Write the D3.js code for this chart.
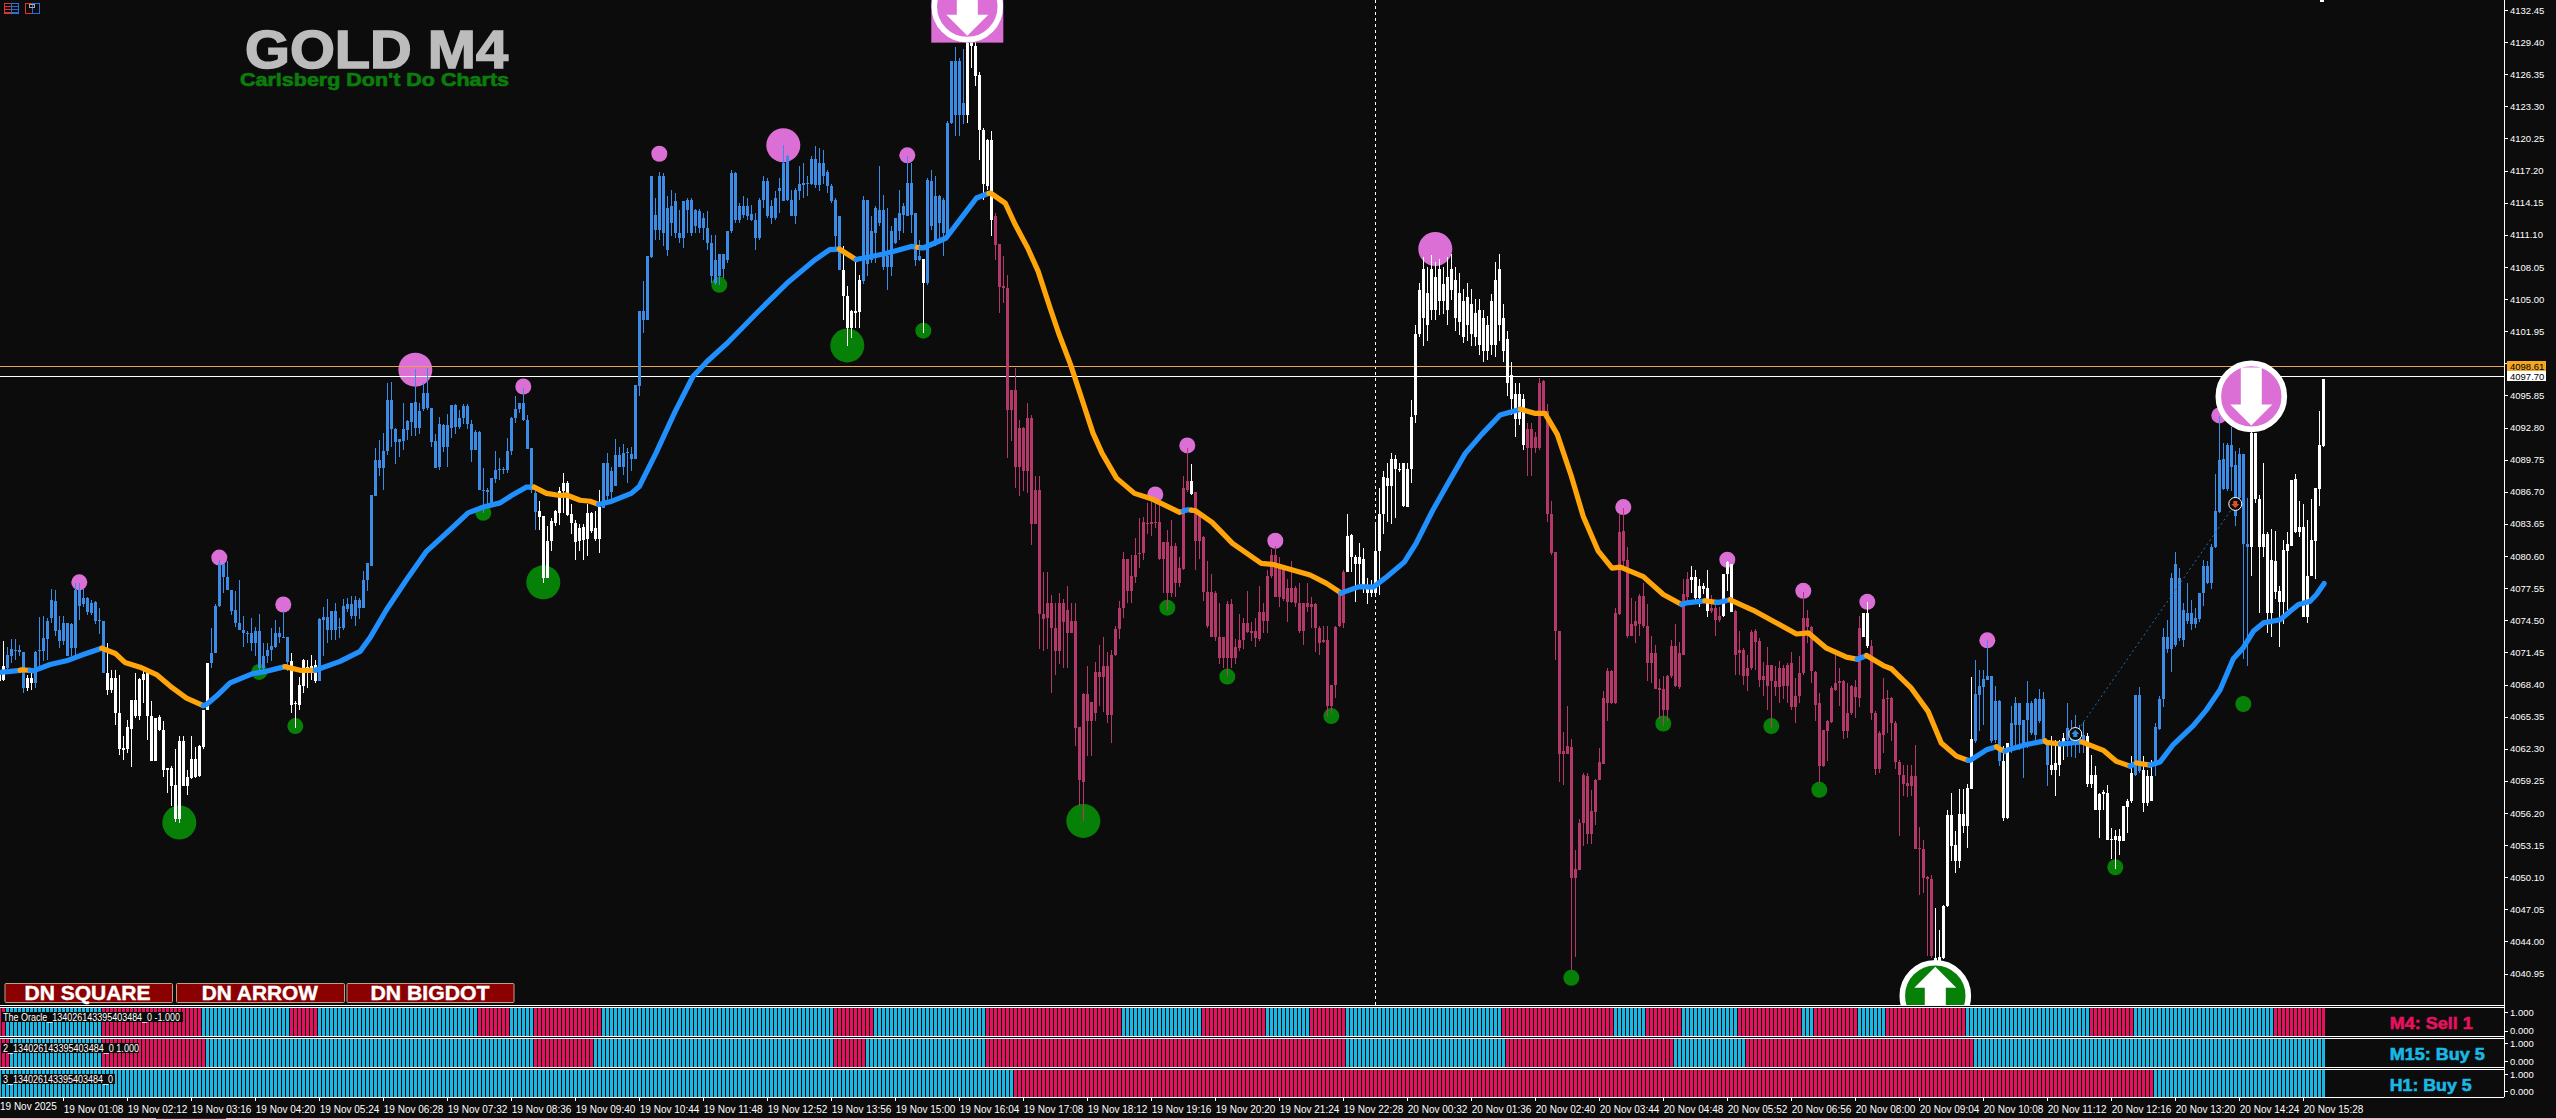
<!DOCTYPE html>
<html><head><meta charset="utf-8">
<script src="https://cdn.jsdelivr.net/npm/d3@7"></script>
<style>html,body{margin:0;padding:0;background:#0c0c0c;overflow:hidden}svg{display:block}text{font-family:"Liberation Sans",Arial,sans-serif}</style>
</head><body><svg id="c" width="2556" height="1119"></svg>
<script>
// Each row: [high, bodyTop, bodyBottom, low]
const sectionStarts=[0,86,160,258,354,406,484,550];
const barsA=[[4070.1,4069.65,4068.7,4067.6],[4072.5,4070.2,4068.85,4068.7],[4072,4071.2,4070,4069.65],[4072.7,4071.8,4071.15,4070.45],[4072.7,4071.7,4071.55,4070.75],[4072.2,4071.7,4071.45,4071.1],[4071.5,4071.5,4068.1,4067.6],[4069.3,4069,4068.05,4067.75],[4069.65,4069,4068.5,4067.9],[4071.55,4071.5,4068.55,4068.05],[4074.8,4071.7,4071.55,4069.8],[4074.9,4072.8,4071.6,4070.6],[4074.7,4074.4,4072.75,4070.75],[4077.45,4076.45,4074.7,4074.25],[4077.35,4076.35,4073.45,4073],[4074.9,4073.6,4072.55,4071.85],[4074.95,4074.25,4072.55,4072.2],[4074.25,4074.2,4071.1,4071.1],[4074.25,4074.1,4071.85,4071.1],[4078,4077.4,4071.85,4071.2],[4078,4077.4,4075.9,4074.55],[4077.55,4076.6,4076,4075.8],[4076.75,4076.6,4075.25,4075],[4076.45,4076.15,4075.2,4075],[4076.3,4076.2,4074.4,4074.1],[4075.65,4074.55,4074.45,4073.15],[4074.45,4074.45,4069.5,4069.5],[4072.35,4069.5,4067.9,4067.45],[4069.8,4069,4067.9,4067.6],[4069.8,4069,4065.7,4064.6],[4069.3,4065.7,4062.3,4061.75],[4063.5,4062.4,4062.2,4061.2],[4065.05,4064.35,4062.3,4061.9],[4066.95,4066.95,4064.2,4060.55],[4069.5,4066.95,4065.45,4065.2],[4069,4068.95,4065.4,4065.05],[4069.7,4069.4,4068.85,4066.65],[4069.65,4069.5,4065.4,4063.15],[4066.8,4065.45,4061.15,4061.1],[4065.2,4065.2,4061.15,4061.1],[4065.55,4065.3,4064.1,4063.95],[4064.9,4064.1,4060.3,4059.6],[4060.45,4060.45,4060.3,4058.1],[4060.65,4060.45,4058.8,4056.85],[4062.3,4058.9,4055.65,4055.3],[4063.5,4063.05,4055.65,4055.25],[4063.5,4063.05,4058.8,4058.75],[4060.3,4059.6,4058.8,4057.95],[4063.5,4061.35,4059.5,4059.45],[4062.5,4061.35,4059.6,4059.5],[4062.7,4062.6,4059.75,4059.6],[4066,4066,4062.45,4062.3],[4070.45,4070.45,4065.95,4065.95],[4073.75,4071.4,4070.45,4069.95],[4076,4075.9,4071.35,4071.35],[4080.25,4079.8,4075.9,4075.8],[4079.8,4079.8,4078.65,4077.1],[4080.1,4078.6,4077.35,4077.35],[4077.4,4077.4,4075.4,4075],[4077.25,4075.5,4074.2,4073.85],[4078.3,4074.25,4073.6,4073.6],[4074.9,4073.6,4073.3,4071.95],[4073.45,4073.3,4073.2,4072.35],[4074.7,4073.3,4072.3,4071.55],[4073.9,4073.5,4072.3,4071.1],[4075.1,4073.5,4069.95,4069.65],[4072.35,4071.15,4069.95,4069.65],[4072.35,4071.65,4071.1,4070.45],[4073.75,4072.1,4071.65,4070.6],[4074.55,4073.3,4072,4071.85],[4073.9,4073.3,4072.9,4072.35],[4075.35,4072.95,4072.9,4072.8],[4072.9,4072.9,4070.5,4069.65],[4071.4,4070.6,4066.5,4065.7],[4066.8,4066.65,4066.55,4064.25],[4069.15,4068.4,4066.5,4066],[4070.8,4070.75,4068.3,4067.6],[4070.75,4070.1,4069.65,4068.05],[4071.2,4070.2,4069.65,4068.85],[4070.75,4070.3,4068.7,4068.55],[4074.7,4074.65,4068.7,4068.7],[4075.8,4074.8,4074.55,4071.1],[4076.5,4074.8,4073.55,4072.3],[4075.35,4075.35,4073.55,4072.65],[4076.15,4075.35,4073.6,4072.65],[4074.7,4073.85,4073.75,4072.8]];
const barsB=[[4076.5,4075.85,4073.8,4073.6],[4076.6,4076,4075.55,4075.3],[4076.8,4076,4074.9,4074.6],[4076.8,4076.45,4074.9,4074],[4076.6,4076.45,4075.65,4074.6],[4079.15,4078.35,4075.65,4075.65],[4079.9,4079.9,4078.3,4077.25],[4086.35,4086.35,4079.7,4079.7],[4090.85,4089.7,4086.3,4086.3],[4091.65,4089.7,4089,4088.2],[4092.3,4090.55,4089,4086.9],[4097,4095.4,4090.55,4090.2],[4097.1,4095.4,4092.65,4091],[4092.75,4092.65,4091.4,4089.3],[4091.7,4091.7,4091.4,4090],[4095.15,4092.65,4091.5,4090.7],[4093.55,4093.4,4092.6,4091.65],[4095.15,4095.1,4093.3,4092],[4098.35,4095.2,4092.75,4092],[4095.15,4094.4,4092.75,4092.15],[4097,4096.1,4094.55,4094.35],[4098.45,4096.1,4094.65,4094.5],[4094.65,4094.65,4091.4,4091],[4092.15,4091.55,4089,4089],[4093.85,4093.1,4089.05,4088.8],[4093.1,4093,4091,4090.45],[4094.05,4093,4091,4089.1],[4094.9,4094.9,4092.75,4091.8],[4095,4094.9,4092.85,4092.2],[4094.5,4093.7,4092.85,4092.65],[4095,4094.8,4093.7,4093.1],[4095,4094.8,4093.1,4092.65],[4093.55,4093.1,4090.65,4089.5],[4092.55,4092.4,4090.65,4090.65],[4092.45,4092.4,4086.9,4086.85],[4088.95,4086.9,4086.75,4084.7],[4087.05,4086.9,4086.65,4085.5],[4088,4088,4085.65,4085.3],[4090.55,4088.8,4087.9,4087.55],[4089.9,4088.85,4088.75,4087.85],[4089.1,4088.85,4088.75,4088.35],[4091.8,4090.55,4088.75,4088.45],[4093.8,4093.7,4090.55,4090.2],[4095.75,4094.6,4093.7,4093.25],[4095.15,4095.1,4094.55,4094.2],[4096.55,4095.1,4093.5,4093.4],[4094,4093.55,4090.75,4090.75],[4090.85,4090.85,4086.85,4086.6],[4086.75,4086.6,4084.75,4083.1],[4085.8,4084.9,4084.3,4083.1],[4084.4,4084.4,4078.5,4078.05],[4083.45,4082.05,4078.5,4078.5],[4084.2,4083.9,4082.05,4081.05],[4085,4084.85,4083.75,4083.45],[4087.2,4086.75,4084.7,4083.5],[4088.5,4087.5,4086.75,4084.7],[4087.7,4087.5,4084.45,4084.4],[4085.5,4084.55,4083.7,4082.65],[4084.05,4083.75,4081.9,4080.2],[4083.6,4083.3,4082,4081.05],[4083.6,4083.35,4082.15,4080.2],[4085.5,4084.7,4082.2,4080.6],[4084.75,4084.7,4082.95,4082.8],[4084.85,4083.3,4082.2,4082],[4086.9,4085.25,4082.2,4080.9],[4089.45,4089.4,4085.15,4085.15],[4090.4,4089.4,4086.3,4085.95],[4089.1,4088.7,4086.65,4085.95],[4091.7,4090.15,4087.25,4087.25],[4091,4090.15,4089.1,4089.05],[4091.2,4090.4,4089.1,4088.3],[4090.85,4090.45,4090.4,4087.55],[4091,4090.3,4089.8,4088.65],[4096.8,4096.8,4089.8,4089.8]];
const barsC=[[4103.9,4103.9,4096.7,4095.8],[4106.7,4103.85,4103.05,4101.8],[4109.05,4109.05,4103,4103],[4116.65,4116.65,4109,4108.9],[4114.6,4113,4111.6,4110.65],[4117.1,4116.65,4111.6,4110.65],[4117,4116.65,4111.3,4110],[4114.75,4113.65,4109.7,4109.05],[4115.4,4113.8,4112.2,4111],[4115.1,4114.3,4111.3,4110.8],[4113.5,4111.3,4110.8,4110.3],[4114.3,4114.3,4110.8,4109.85],[4114.6,4114.45,4113.45,4111.3],[4114.6,4114.45,4111.3,4111],[4113.6,4113.5,4111.9,4111.3],[4113.6,4113.35,4111.75,4111.3],[4113.2,4112.7,4111.75,4110.65],[4113.35,4111.75,4110.35,4109.7],[4111.1,4110.35,4107.2,4106.5],[4111.1,4108.75,4106.5,4106.35],[4109.3,4109.3,4107.2,4106.35],[4109.3,4109.3,4107.85,4107],[4111.5,4111.5,4108.75,4108.45],[4117.3,4117,4111.45,4111.3],[4117.1,4117,4112.55,4112.25],[4114.1,4113.8,4112.55,4112.25],[4114.75,4113.85,4113,4112.7],[4114.6,4113.8,4112.85,4112.5],[4113.95,4113.1,4112.5,4112.4],[4113.2,4112.55,4110.8,4109.7],[4114.6,4114.45,4110.8,4110.65],[4116.65,4116.2,4114.45,4113.65],[4116.5,4116.2,4112.85,4112.7],[4114.45,4113.8,4112.7,4112.1],[4115.25,4114.6,4112.7,4112.55],[4116.5,4115.55,4115.25,4113.2],[4119.65,4117.9,4114.3,4114.3],[4118.7,4118.55,4114.4,4114.3],[4115.4,4114.45,4112.9,4112.85],[4115.55,4115.4,4112.9,4112.1],[4117.6,4115.9,4115.25,4114.45],[4117.9,4116,4115.8,4114.6],[4116.65,4116,4115.9,4114.75],[4118.55,4118.3,4115.9,4115.8],[4119.5,4118.3,4115.8,4115.55],[4119.35,4117.9,4115.8,4115.3],[4119.2,4117.9,4116.65,4115.9],[4117.3,4117.1,4115.7,4115.1],[4115.9,4115.7,4114.3,4114.1],[4114.6,4114.45,4110.95,4109.85],[4112.85,4112.85,4107.8,4107.8],[4110,4107.8,4105.3,4103],[4106.2,4105.3,4102.3,4100.5],[4104,4103.85,4102.3,4101.3],[4108.75,4103.85,4103.7,4102.3],[4107.3,4106.85,4103.75,4102.3],[4114.75,4114.45,4106.7,4106.4],[4114.45,4114.45,4108.3,4107.2],[4112.85,4111.45,4108.75,4108.45],[4113.8,4113.65,4111.3,4108.45],[4117.6,4113.5,4112.2,4111.9],[4114.9,4113.5,4108,4107.8],[4113.65,4109.05,4108,4105.9],[4111.9,4111.45,4108,4107.2],[4112.7,4112.7,4110.35,4110.2],[4115.4,4113.2,4111.45,4110.65],[4114.1,4113.8,4113,4111.3],[4118.55,4116,4112.85,4112.85],[4117.9,4116,4113,4111.3],[4113.2,4113.2,4108.75,4108.1],[4110.65,4109.05,4108.75,4108.6],[4108.85,4108.8,4106.5,4101.8],[4116.5,4116.35,4106.5,4106.35],[4117.3,4116.2,4111.9,4111.6],[4116.65,4114.75,4110.35,4110],[4114.9,4114.75,4112.2,4110.2],[4114.6,4114.45,4111.3,4109.05],[4121.9,4121.75,4111,4110.65],[4127.65,4127.65,4121.75,4121.6],[4128.9,4127.65,4122.5,4120.5],[4127.9,4127.6,4122.5,4120.45],[4128.7,4123.6,4122.5,4121.6],[4130.4,4129.3,4122.5,4121.7],[4130.3,4130.25,4129,4126.95],[4130.4,4129,4126.2,4125.2],[4126.55,4126.3,4121.1,4118.25],[4121.25,4121.1,4115.9,4114.45],[4120.2,4120.15,4115.7,4115.4],[4121,4120.15,4112.55,4111],[4113.2,4112.85,4110.1,4108.75],[4110.2,4110.2,4106.15,4103.7],[4109.05,4106.2,4106.05,4104.65],[4107.3,4106.05,4094.5,4089.9],[4096.4,4096.4,4094.5,4091.5],[4098.45,4096.4,4089.1,4087.1],[4093.55,4092.75,4089.1,4086.3],[4092.9,4092.75,4088.65,4086.75],[4095.15,4093.7,4088.65,4086.6]];
const barsD=[[4094,4093.75,4083.65,4081.65],[4088.2,4086.9,4083.65,4083.65],[4088.2,4086.9,4075.1,4071.8],[4079.1,4075.1,4074.65,4071.6],[4079.1,4076.15,4074.7,4071.8],[4076.9,4076.15,4073.8,4067.6],[4076.15,4073.8,4071.6,4069.3],[4077.1,4076.15,4071.6,4070.35],[4076.55,4076.15,4074.35,4070],[4077.8,4075.45,4073.3,4070],[4076.15,4074.45,4073.3,4073.3],[4076.15,4074.45,4064.25,4062.55],[4064.35,4064.35,4059.3,4056.9],[4067.6,4067.5,4059.1,4055.45],[4070.2,4067.5,4064.9,4061.65],[4066.75,4066.7,4064.9,4061.65],[4070.55,4069.55,4065.65,4064.9],[4072.2,4069.55,4069.1,4066.35],[4072.9,4070.2,4069.1,4065.8],[4071.45,4070.2,4065.55,4064.75],[4071.65,4071.25,4065.55,4062.8],[4074,4073.65,4071.25,4071.1],[4076.3,4075.65,4073.65,4072.75],[4080.95,4080.35,4075.65,4074.75],[4080.35,4080.35,4077.3,4076.15],[4080.7,4078.7,4077.3,4076.15],[4082.35,4080.7,4078.65,4078],[4084.2,4080.85,4080.75,4079.45],[4084.35,4083.8,4080.9,4080.2],[4085.65,4083.75,4083.65,4082.7],[4086,4083.8,4083.65,4082.55],[4085.8,4083.8,4083.7,4083.25],[4085.7,4083.8,4080.35,4080.2],[4081.9,4081.9,4080.35,4077.1],[4083.1,4081.9,4077.1,4075.45],[4084,4081.6,4077.1,4076.75],[4081.8,4081.55,4078,4076.75],[4080.5,4079.45,4078,4077.65],[4088.2,4087.1,4079.4,4079.3],[4090.9,4087.7,4086.9,4086.7],[4089.3,4087.7,4086.45,4086.35],[4086.7,4086.7,4082,4079.3],[4084.7,4084.55,4082,4080.35],[4082.55,4082.45,4077.2,4076.35],[4080.15,4077.2,4074,4073.8],[4078.9,4077.2,4072.9,4072.9],[4077.3,4077.1,4072.9,4072.55],[4076.15,4072.9,4070.9,4070.35],[4072.9,4072.9,4070.9,4070],[4076.35,4076.05,4070.9,4069.25],[4076.55,4076.05,4070.9,4070],[4072.75,4072,4070.9,4070.35],[4075.1,4072.6,4071.9,4071.6],[4074.7,4074.2,4072.6,4071.8],[4077.3,4074.2,4073.35,4073.3],[4074.35,4073.45,4073.25,4072.55],[4074.7,4073.45,4072.85,4072],[4077.8,4075.25,4072.75,4072.55],[4076.15,4075.25,4074.45,4073.3],[4079.3,4078.7,4074.45,4073.3],[4081.3,4080.7,4078.7,4078.5],[4081.6,4080.7,4076.7,4076.7],[4080.5,4079.45,4076.7,4075.8],[4079.6,4079.45,4076.55,4076.35],[4078.4,4077.6,4076.25,4074.35],[4080.15,4077.6,4076.25,4076.15],[4077.8,4077.6,4076.15,4075.8],[4078,4076.15,4073.45,4073.3],[4076.15,4076.15,4073.45,4072.2],[4078,4076.15,4075.75,4075.25],[4076.7,4076.05,4075.8,4073.8],[4076.15,4076.05,4073.8,4071.45],[4074,4073.8,4072.35,4071.25],[4074,4072.6,4072.45,4072.35],[4073.95,4072.6,4066.35,4065.45],[4068.35,4068.35,4066.35,4065.65],[4073.95,4073.9,4068.35,4067.1],[4077.1,4077.1,4074,4073.9],[4079.3,4079.1,4074.2,4073.8],[4084.55,4082.55,4079.1,4079.1],[4082.7,4082.6,4080.55,4079.1],[4080.7,4080.55,4079.8,4076.2],[4081.8,4080.55,4079.8,4077.6],[4081.4,4080.35,4077.6,4077.1],[4078.5,4077.6,4077.1,4076],[4078.35,4077.6,4077.1,4076.75],[4083.8,4081.1,4077.1,4076.9],[4087.1,4084.55,4081.1,4076.9],[4088.7,4088.15,4084.55,4082.7],[4089.45,4088,4087.25,4083.8],[4090.4,4089.8,4087.25,4083.65],[4090.2,4089.8,4088.9,4084.2],[4089.45,4088.9,4088.8,4088.55],[4089.45,4089.45,4085.35,4085.3],[4089.45,4088.9,4085.3,4085.3],[4095.45,4093.8,4088.9,4087.5]];
const barsE=[[4102.5,4101.7,4094,4093.2],[4106.5,4105.9,4101.7,4101.4],[4109,4107.9,4103.2,4100.5],[4108,4105.6,4102.5,4101],[4109.2,4107.9,4104,4103],[4108.5,4107.1,4104,4103],[4108.8,4107.9,4104.8,4103.5],[4108,4106.4,4104.8,4103.6],[4109,4107.1,4104,4102.5],[4109.3,4107.9,4105.9,4104.9],[4108,4106.8,4103.2,4102],[4107.5,4105.6,4102.8,4101.6],[4106,4104.8,4101.4,4100.8],[4106.5,4105.2,4102.5,4101],[4106,4104.5,4101.7,4100.5],[4105,4103.7,4101.4,4100.5],[4105,4104,4100.6,4099.7],[4104,4103.2,4100.1,4099],[4103.4,4102.5,4100.1,4099.2],[4105.5,4104.8,4100.6,4099.7],[4108.5,4106.8,4100.6,4099.5],[4109.3,4107.9,4102.5,4101],[4104.5,4103.2,4100.1,4099],[4102,4101.2,4097,4095.8],[4099,4097.8,4095.5,4094],[4097,4096,4093.65,4091.9],[4097,4096,4093.65,4093],[4096,4095.5,4091.1,4090.65],[4093.25,4092.7,4090.9,4088.2],[4093.25,4092.7,4090.9,4088.2],[4092.35,4091.95,4090.9,4090.35],[4097.5,4097,4090.9,4090.65],[4097.3,4097.2,4094.4,4094],[4095,4094.4,4084.55,4083.8],[4085.8,4084.55,4080.9,4080.7],[4081,4080.95,4073.45,4070.75],[4073.45,4073.45,4061.8,4059.1],[4063.9,4062.1,4061.8,4058.9],[4066.35,4062.55,4061.8,4061.8],[4063.25,4062.45,4050,4041.3],[4052.7,4050.9,4050,4042.5],[4055.6,4055.25,4050.8,4050.75],[4060,4059.8,4055.25,4053.1],[4060,4059.7,4054.2,4053.3],[4058.35,4056.35,4054.2,4053.3],[4059.45,4059.35,4056.25,4055.1],[4062.4,4061,4059.3,4059.3],[4067.8,4067.1,4060.9,4060.9],[4070,4069.7,4066.65,4064.9],[4069.8,4069.7,4066.65,4066.55],[4075.65,4075.15,4066.65,4066.55],[4084.55,4082.9,4075.1,4075]];
const barsF=[[4085.15,4082.95,4080.1,4079.5],[4081.5,4080.25,4073,4072.85],[4076.6,4074.1,4073.05,4073],[4076.3,4074.4,4073.95,4072.35],[4076.95,4076.85,4074.1,4073],[4078.05,4076.85,4073.95,4073.8],[4076,4074,4070.45,4068.7],[4073,4071.4,4070.4,4068.55],[4072.2,4071.4,4068,4068],[4068.9,4068.05,4067.9,4065.1],[4069.2,4068,4066,4064.45],[4069.35,4069.25,4066,4064.9],[4072.65,4072.1,4069.2,4069],[4074.1,4072.1,4068.25,4068.15],[4072.4,4071.35,4068.15,4068],[4078.4,4076.95,4071.25,4071.25],[4079.05,4078.4,4076.75,4076.15],[4079.7,4078.6,4078.3,4077.1],[4079.25,4078.6,4076.6,4076.45],[4078.4,4077.8,4076.6,4075.8],[4078.05,4077.8,4077.45,4076.95],[4079.3,4077.55,4075.35,4074.8],[4076.9,4075.7,4075.35,4075.2],[4076.15,4075.65,4074.5,4073.05],[4075.8,4074.95,4074.5,4074.3],[4078.9,4078.9,4074.9,4074.8],[4080.1,4080,4078.85,4077.25],[4079.85,4079.85,4075.3,4075.25],[4075.5,4075.35,4071.25,4069.35],[4073.45,4071.7,4071.35,4069.35],[4071.85,4071.7,4069.2,4068.4],[4071.25,4070,4069.2,4067.75],[4073.6,4073.35,4070,4069.75],[4073.65,4073.45,4072.4,4069.8],[4072.8,4072.5,4068.8,4068.15],[4070.5,4069.2,4068.8,4067.35],[4072,4070.3,4068.25,4065.95],[4070.3,4070.3,4068.7,4064.25],[4070.2,4068.7,4068.2,4067.3],[4070.6,4070,4068.2,4066.6],[4070.3,4070,4068.25,4067],[4070.45,4070.3,4068.25,4066.65],[4071.45,4070.4,4066.25,4065.95],[4069,4067.35,4066.25,4064.75],[4071.1,4069.5,4067.3,4066.65],[4077.15,4074.7,4069.45,4069.35],[4075.45,4074.7,4073.9,4072.35],[4074,4073.9,4069.65,4068.5],[4069.65,4069.6,4066.5,4064.9],[4067.6,4066.6,4060.65,4059.05],[4064.1,4064.05,4060.65,4060.6],[4065,4064.9,4064,4061.1],[4068.25,4068.1,4064.8,4064.75],[4071.25,4068.55,4067.9,4067.75],[4070,4068.7,4068.5,4066.35],[4068.85,4068.7,4064,4063.2],[4068.55,4065.7,4064,4063.3],[4068.4,4068.3,4065.7,4065.55],[4068.85,4068.2,4067.2,4065.2],[4074.95,4073.75,4067.1,4066.25],[4075.2,4075.2,4072.9,4072.9],[4076.2,4075.2,4072.1,4071.85],[4072.65,4072.1,4065.7,4065.05],[4065.85,4065.7,4060.4,4059.85],[4063.95,4063.8,4060.4,4060],[4069,4067,4063.65,4061.9],[4067.9,4067.1,4067,4063.8],[4067.25,4067.1,4064.75,4063],[4064.9,4064.75,4061,4060.35],[4061.25,4061,4059.85,4054],[4060.8,4059.85,4059,4057.85],[4060.8,4059.05,4058.75,4057.7],[4060.8,4059.7,4058.75,4057.8],[4062.7,4059.75,4052.8,4052.75],[4054.85,4052.9,4052.75,4048.45],[4053.6,4052.8,4050.05,4048.6],[4050.2,4050.1,4049.9,4042.6],[4050.35,4049.9,4042.6,4042.45]];
const barsG=[[4047.15,4042.45,4041.65,4040.7],[4045.1,4042.5,4041.65,4040.7],[4047.5,4047.4,4042.45,4042.3],[4056.5,4056.05,4047.35,4047.3],[4058.1,4056.05,4053.05,4051.6],[4054.45,4053.2,4051.6,4050.5],[4058.5,4056.15,4051.6,4051],[4058.5,4056.15,4054.95,4054.3],[4058.95,4058.55,4054.95,4052.9],[4069.1,4063.25,4058.5,4058.45],[4070.75,4067.5,4063,4062.8],[4069.75,4068.3,4067.45,4063.95],[4069.8,4068.9,4068.15,4064.6],[4072.65,4069.25,4068.85,4068.85],[4069.25,4069.25,4063,4062.85],[4068.3,4066.8,4063.15,4062.85],[4066.95,4066.8,4061.1,4060.7],[4062.55,4061.15,4055.75,4055.4],[4062.85,4062.8,4055.75,4055.65],[4066.4,4064.7,4062.55,4061.9],[4067.2,4066.6,4064.6,4062.35],[4066.65,4066.6,4064.6,4062.2],[4065,4065,4062.55,4059.5],[4068.75,4066.6,4065,4062.35],[4066.8,4066.6,4063.8,4063.65],[4067.1,4067,4063.65,4063.15],[4067.95,4067,4064.9,4064.75],[4067.65,4067,4063.15,4063],[4063.15,4063.15,4060.8,4058.8],[4063.55,4060.8,4060.3,4059.85],[4063.15,4060.95,4060.3,4057.85],[4063.15,4062.8,4060.8,4059.7],[4063.8,4063.3,4062.85,4061.25],[4066.6,4064.25,4063.15,4061.5],[4065.05,4063.95,4063.15,4061.5],[4065.5,4064.1,4062.85,4061.4],[4064.6,4064.1,4062.85,4061.85],[4064.8,4063.65,4063,4061.85],[4063.75,4063.55,4059,4058.7],[4061.75,4059.85,4059,4058.6],[4060.65,4059.85,4056.5,4056.45],[4058.1,4058,4056.5,4053.85],[4058.35,4058.15,4058,4056.5],[4058.9,4058.1,4053.65,4053.6],[4054.75,4053.75,4053.6,4051.8],[4054.6,4054,4053.6,4050.9],[4054.7,4054.05,4053.5,4052.25],[4056.9,4056.9,4053.5,4053.5],[4057.5,4057.3,4056.8,4054.3],[4061.65,4060,4057.3,4057.15],[4067.45,4067.45,4059.85,4059.75],[4068.15,4067.45,4060.15,4060],[4061.6,4060.25,4057.15,4056.25],[4060.25,4059.75,4057.15,4056.9],[4061.25,4059.7,4057.3,4057.3],[4064.75,4064.35,4060.65,4059.7],[4067.3,4067,4064.2,4064.1],[4073.75,4072.9,4067,4066.3],[4074.55,4072.9,4071.75,4071.4],[4079,4078.5,4071.75,4069.55],[4081,4079.8,4072.2,4072],[4079.5,4078.5,4072.8,4072.5],[4076.15,4075.5,4072.65,4072],[4078,4075.2,4074.4,4074.1],[4076.45,4075.2,4074.1,4073.6],[4075.65,4074.7,4074.1,4073.75]];
const barsH=[[4077.1,4077.1,4074.6,4074.3],[4080.25,4079.7,4077.1,4075.85],[4080.1,4079.7,4078.05,4077.9],[4081.7,4081.5,4078.05,4077.45],[4088.35,4084.85,4081.5,4081.4],[4093.9,4089.75,4084.75,4084.7],[4091.35,4089.8,4087,4086.9],[4091.35,4091.1,4087,4086.75],[4092.9,4091.1,4089.1,4086.75],[4090.55,4089.2,4084.4,4083.45],[4090.9,4090.25,4086.1,4086],[4090.25,4090.25,4081.7,4070.8],[4086.1,4081.75,4081.5,4070.15],[4094,4092.3,4081.5,4078.7],[4092.3,4092.3,4086,4085.65],[4086.4,4086,4081.5,4075.2],[4089.4,4082.7,4081.5,4080.5],[4082.85,4082.7,4075.15,4073.3],[4083.2,4080.2,4075.15,4072.95],[4083,4080.1,4077.15,4076.5],[4077.8,4077.25,4076.2,4072],[4082.15,4081.2,4076.2,4074.1],[4082.9,4081.7,4081.05,4075.5],[4087.85,4087.85,4081.6,4081.55],[4088.35,4087.95,4082.85,4082.8],[4085.8,4083.35,4082.85,4082.4],[4085.5,4083.35,4074.8,4074.8],[4084.05,4078.75,4074.8,4074.25],[4086,4082.1,4078.7,4078.7],[4087.1,4087.1,4082,4078.45],[4094.35,4091.1,4087,4085.35],[4097.4,4097.4,4091.05,4090.95]];

const candleRunStart=[0,2,7,9,27,53,73,80,135,151,211,216,231,232,242,249,298,299,337,382,423,428,431,434,466,468,484,494,501,503,513,517,522,534,536,539,563];
const candleRunKind=["w","b","w","b","w","b","w","b","w","b","w","b","w","b","w","p","w","p","w","p","w","p","w","p","w","p","w","b","w","b","w","b","w","b","w","b","w"];

const maBarIndex=[0.2,5.2,5.6,7.7,8.5,12.7,16.8,21,25.6,29,31.4,35.2,39.3,42.7,46.8,51,51.8,54.3,57.7,63.5,66.8,71.4,75.2,79,85.2,90.2,92.7,96.8,101.8,106.8,112.7,117.2,121,125.2,128.5,131.8,133.7,136.8,140.2,141.8,145.2,147.7,149.8,152.7,158,160,164.2,168.8,173.4,177,182.1,189.8,196.9,204,207.6,210,214.2,214.8,221.4,228,230,231,236.7,240.8,244.3,247.4,247.9,251.5,254,257.1,259.7,262.7,264.8,267.8,270.4,273.4,275.7,279.3,283.8,288,295.1,297.1,299.1,303.2,308.3,315.5,318.5,327.7,331.8,335.4,335.9,340,343.5,346.6,351.2,354.2,358.3,362.4,366.5,370.6,375.2,380.3,383.8,386.4,389.5,393,396,399.7,403.2,405.3,411,416,420.6,421.8,426.4,429.3,429.8,432.7,433,438.5,444.3,449.3,452.3,456.8,461.8,464.5,466.8,471,473,478,482.2,485.5,489.3,492.2,492.7,496.8,499.3,499.8,501.4,501.8,506.8,511.4,511.8,515.3,515.6,520.6,526,529.3,532.7,534.3,537.7,540.2,543.5,548.5,551.8,555.2,558.5,561,563.5,566,570.2,572.7,574.8,577.7,579.3,581.2];
const maPrice=[4069.55,4069.75,4069.8,4069.75,4069.7,4070.3,4070.65,4071.25,4071.85,4071.35,4070.5,4070.05,4069.35,4068.25,4067.1,4066.4,4066.5,4067.3,4068.55,4069.45,4069.65,4070.1,4069.75,4069.75,4070.6,4071.55,4072.85,4075.5,4078.35,4081.05,4083.1,4084.7,4085.25,4085.65,4086.45,4087.15,4087.15,4086.55,4086.35,4086.4,4085.9,4085.8,4085.5,4085.75,4086.55,4087.2,4090.4,4094.2,4097.65,4099.1,4100.85,4103.85,4106.5,4108.75,4109.7,4109.75,4108.75,4108.8,4109.3,4110,4109.9,4109.85,4110.8,4112.85,4114.6,4115.05,4115.05,4114.1,4112.05,4109.85,4107.65,4104.15,4101.8,4098.8,4095.8,4092.3,4090.35,4088,4086.55,4086.05,4084.75,4085,4084.9,4083.8,4081.8,4079.9,4079.8,4078.8,4078,4077.1,4077.15,4077.7,4077.65,4078.55,4080,4081.8,4084.9,4087.65,4090.35,4092.15,4094,4094.55,4094.15,4094.15,4092.15,4088.2,4084.35,4081.1,4079.45,4079.55,4078.65,4076.95,4076,4076.15,4076.35,4076.2,4076.2,4076.45,4076.4,4075.45,4074.25,4073.2,4073.3,4071.85,4071,4070.8,4071.15,4070.2,4069.9,4068.05,4065.85,4062.85,4061.6,4061.2,4061.2,4062.2,4062.5,4062.35,4062.05,4062.15,4062.7,4063.05,4062.9,4062.75,4062.75,4062.95,4062.15,4061.1,4060.65,4060.95,4060.75,4061.05,4062.7,4064.5,4066,4067.9,4070.85,4071.9,4073.45,4074.25,4074.55,4075.35,4076,4076.3,4076.95,4078];
const maRunEnd=[5.2,7.7,25.6,51,71.4,79,133.7,149.8,210,214.2,229.5,230.5,247.4,296,298,335.4,380.3,420.6,426.4,429.3,432.7,464.5,466.8,492.2,499.3,501.4,511.4,515.3,520.6,532.7,534.3,537.7,581.2];

const pinkDotBar=[20,55,71,131,104,165,196,227,289,297,319,406,359,432,451,467,497,555];
const pinkDotPrice=[4078.1,4080.45,4076,4096.7,4098.3,4118.8,4119.6,4118.65,4086.45,4091.1,4082.05,4085.25,4109.75,4080.25,4077.3,4076.25,4072.6,4093.95];
const pinkDotBig=[0,0,0,0,1,0,1,0,0,0,0,0,1,0,0,0,0,0];
const greenDotBar=[45,65,74,121,136,180,212,231,271,292,307,333,393,416,443,455,529,561];
const greenDotPrice=[4055.3,4069.6,4064.45,4084.7,4078.1,4106.35,4100.6,4102,4055.45,4075.7,4069.15,4065.4,4040.55,4064.7,4064.45,4058.4,4051.05,4066.55];
const greenDotBig=[1,0,0,0,1,0,1,0,1,0,0,0,0,0,0,0,0,0];

const levelPrices=[4098.61,4097.70];
const levelColors=["#e8a24c","#ffffff"];
const priceTicks=[4132.45,4129.40,4126.35,4123.30,4120.25,4117.20,4114.15,4111.10,4108.05,4105.00,4101.95,4098.90,4095.85,4092.80,4089.75,4086.70,4083.65,4080.60,4077.55,4074.50,4071.45,4068.40,4065.35,4062.30,4059.25,4056.20,4053.15,4050.10,4047.05,4044.00,4040.95];
const timeLabels=["19 Nov 01:08","19 Nov 02:12","19 Nov 03:16","19 Nov 04:20","19 Nov 05:24","19 Nov 06:28","19 Nov 07:32","19 Nov 08:36","19 Nov 09:40","19 Nov 10:44","19 Nov 11:48","19 Nov 12:52","19 Nov 13:56","19 Nov 15:00","19 Nov 16:04","19 Nov 17:08","19 Nov 18:12","19 Nov 19:16","19 Nov 20:20","19 Nov 21:24","19 Nov 22:28","20 Nov 00:32","20 Nov 01:36","20 Nov 02:40","20 Nov 03:44","20 Nov 04:48","20 Nov 05:52","20 Nov 06:56","20 Nov 08:00","20 Nov 09:04","20 Nov 10:08","20 Nov 11:12","20 Nov 12:16","20 Nov 13:20","20 Nov 14:24","20 Nov 15:28"];
const timeTickBars=timeLabels.map((_,k)=>16*(k+1));

const row1Red=[[0,1],[26,50],[73,79],[120,127],[134,150],[209,218],[247,280],[301,316],[328,336],[376,403],[412,420],[435,450],[454,464],[472,491],[523,533],[569,581]];
const row2Red=[[0,2],[26,51],[134,148],[209,216],[247,336],[377,418],[437,493]];
const row3Red=[[254,538]];
const rowLabels=["The Oracle_134026143395403484_0 -1.000","2_134026143395403484_0 1.000","3_134026143395403484_0"];
const rowStatus=["M4: Sell 1","M15: Buy 5","H1: Buy 5"];
const buttons=["DN SQUARE","DN ARROW","DN BIGDOT"];

// ---------- layout and styles ----------
const barCount=582, plotRight=2504, mainBottom=1005;
const C={bg:"#0c0c0c",b:"#3b8ce6",w:"#ffffff",p:"#b5386a",maB:"#2090ff",maO:"#ffa50a",pink:"#db6fd6",green:"#078007",cyan:"#1ab8e4",red:"#e5125f"};
const svg=d3.select("#c");
svg.append("rect").attr("width",2556).attr("height",1119).attr("fill",C.bg);
const x=d3.scaleLinear().domain([0,1]).range([-0.7,3.3]);
const y=d3.scaleLinear().domain([4132.45,4040.95]).range([10,973.6]);
const px=i=>Math.floor(x(i));
svg.append("clipPath").attr("id","mainClip").append("rect").attr("width",plotRight).attr("height",mainBottom);
const main=svg.append("g").attr("clip-path","url(#mainClip)");

// separator
main.append("line").attr("x1",x(344)).attr("x2",x(344)).attr("y1",0).attr("y2",mainBottom).attr("stroke","#fff").attr("stroke-dasharray","3,3").attr("shape-rendering","crispEdges");

// dots
const dots=[];
pinkDotBar.forEach((b,k)=>dots.push({b,p:pinkDotPrice[k],big:pinkDotBig[k],c:C.pink}));
greenDotBar.forEach((b,k)=>dots.push({b,p:greenDotPrice[k],big:greenDotBig[k],c:C.green}));
main.append("g").selectAll("circle").data(dots).join("circle").attr("cx",d=>x(d.b)).attr("cy",d=>y(d.p)).attr("r",d=>d.big?17:8).attr("fill",d=>d.c);

// horizontal levels
main.append("g").selectAll("line").data(levelPrices).join("line").attr("x1",0).attr("x2",plotRight)
 .attr("y1",d=>Math.round(y(d))+.5).attr("y2",d=>Math.round(y(d))+.5).attr("stroke",(d,k)=>levelColors[k]).attr("shape-rendering","crispEdges");

// candles
const sections=[barsA,barsB,barsC,barsD,barsE,barsF,barsG,barsH];
const bars=[];
sections.forEach((rows,s)=>rows.forEach((r,k)=>bars.push({i:sectionStarts[s]+k,h:r[0],t:r[1],b:r[2],l:r[3]})));
const kindOf=i=>candleRunKind[d3.bisectRight(candleRunStart,i)-1];
const cg=main.append("g").attr("shape-rendering","crispEdges");
cg.selectAll("rect.w").data(bars).join("rect").attr("class","w").attr("x",d=>px(d.i)).attr("width",1)
 .attr("y",d=>y(d.h)).attr("height",d=>Math.max(1,y(d.l)-y(d.h))).attr("fill",d=>C[kindOf(d.i)]);
cg.selectAll("rect.bd").data(bars).join("rect").attr("class","bd").attr("x",d=>px(d.i)-1).attr("width",3)
 .attr("y",d=>y(d.t)).attr("height",d=>Math.max(1,y(d.b)-y(d.t))).attr("fill",d=>C[kindOf(d.i)]);

// moving average, coloured runs
const maAt=d3.scaleLinear().domain(maBarIndex).range(maPrice);
const line=d3.line().x(d=>x(d[0])).y(d=>y(d[1]));
let start=maBarIndex[0];
const maRuns=maRunEnd.map((end,k)=>{
  const inner=maBarIndex.filter(v=>v>start&&v<end).map(v=>[v,maAt(v)]);
  const run={k,pts:[[start,maAt(start)],...inner,[end,maAt(end)]]};start=end;return run;});
main.append("g").selectAll("path").data(maRuns).join("path").attr("d",d=>line(d.pts)).attr("fill","none")
 .attr("stroke-width",5.2).attr("stroke-linecap","round").attr("stroke-linejoin","round").attr("stroke",d=>d.k%2?C.maO:C.maB);

// dotted link and trade badges
const tradeBars=[519,559], tradePrices=[4063.7,4085.55];
main.append("line").attr("x1",x(tradeBars[0])).attr("y1",y(tradePrices[0])).attr("x2",x(tradeBars[1])).attr("y2",y(tradePrices[1]))
 .attr("stroke","#1f6fb0").attr("stroke-width",1).attr("stroke-dasharray","2,3");
tradeBars.forEach((b,k)=>{
  const g=main.append("g").attr("transform",`translate(${x(b)},${y(tradePrices[k])})`);
  g.append("circle").attr("r",6.5).attr("fill","#0c0c0c").attr("stroke","#fff").attr("stroke-width",1);
  const pts=k==0?"0,-4 4,0 2,0 2,3 -2,3 -2,0 -4,0":"0,4 4,0 2,0 2,-3 -2,-3 -2,0 -4,0";
  g.append("polygon").attr("points",pts).attr("fill",k==0?"#2f8fe0":"#e0502a");
});

// big arrows
const arrowBars=[242,563,484], arrowPrices=[4132.77,4095.76,4038.85], arrowDir=[1,1,-1], arrowFill=[C.pink,C.pink,C.green], arrowSquare=[1,0,0];
arrowBars.forEach((b,k)=>{
  const g=main.append("g").attr("transform",`translate(${x(b)},${y(arrowPrices[k])})`);
  if(arrowSquare[k]) g.append("rect").attr("x",-36).attr("y",-36).attr("width",72).attr("height",72).attr("fill",arrowFill[k]);
  g.append("circle").attr("r",33).attr("fill",arrowFill[k]).attr("stroke","#fff").attr("stroke-width",5.6);
  const s=arrowDir[k];
  g.append("polygon").attr("fill","#fff").attr("points",[[-10.5,-29],[10.5,-29],[10.5,8],[21,8],[0,29],[-21,8],[-10.5,8]].map(p=>[p[0],p[1]*s].join(",")).join(" "));
});

// title
svg.append("text").attr("x",245).attr("y",68).attr("fill","#bcbcbc").attr("stroke","#bcbcbc").attr("stroke-width",1.6).attr("font-size",54).attr("font-weight","bold").attr("textLength",263).attr("lengthAdjust","spacingAndGlyphs").text("GOLD M4");
svg.append("text").attr("x",240).attr("y",86).attr("fill","#0a7d0a").attr("stroke","#0a7d0a").attr("stroke-width",.7).attr("font-size",19).attr("font-weight","bold").attr("textLength",269).attr("lengthAdjust","spacingAndGlyphs").text("Carlsberg Don't Do Charts");

// top-left icons
[4,24.5].forEach((ix,n)=>{
  const g=svg.append("g").attr("transform",`translate(${ix},3)`).attr("fill","none").attr("shape-rendering","crispEdges");
  g.append("rect").attr("x",.5).attr("y",.5).attr("width",7).attr("height",10).attr("stroke","#d33");
  g.append("rect").attr("x",7.5).attr("y",.5).attr("width",7).attr("height",10).attr("stroke","#2a6fd6");
  if(n==0)[3,6,9].forEach(v=>{g.append("line").attr("x1",1).attr("x2",7).attr("y1",v).attr("y2",v).attr("stroke","#d33");g.append("line").attr("x1",8).attr("x2",14).attr("y1",v).attr("y2",v).attr("stroke","#2a6fd6");});
  else g.append("rect").attr("x",5).attr("y",1).attr("width",5).attr("height",3).attr("stroke","#aaa");
});
svg.append("rect").attr("x",2320).attr("y",0).attr("width",4).attr("height",2).attr("fill","#fff");

// buttons
const btnX=[4.5,176,346.5], btnW=[167.5,168,167], txtX=[24.5,201.8,370.5], txtW=[126,116,119];
buttons.forEach((t,k)=>{
  svg.append("rect").attr("x",btnX[k]+.5).attr("y",983.5).attr("width",btnW[k]).attr("height",19).attr("rx",1).attr("fill","#8b0000").attr("stroke","#b8a48c");
  svg.append("text").attr("x",txtX[k]).attr("y",1000).attr("fill","#fff").attr("stroke","#fff").attr("stroke-width",.4).attr("font-size",19.5).attr("font-weight","bold").attr("textLength",txtW[k]).attr("lengthAdjust","spacingAndGlyphs").text(t);
});

// indicator rows
const rowTop=[1008,1039,1070], rowH=[28,28,27], rowRed=[row1Red,row2Red,row3Red];
const row1Tick=[1030.5,1012.3], row2Tick=[1061.3,1043.3], row3Tick=[1091.3,1074.3];
const rowTicks=[row1Tick,row2Tick,row3Tick];
const labelW=[177,136,110], labelBox=[181,137,113], statusW=[83,95,82];
rowRed.forEach((runs,r)=>{
  const isRed=i=>runs.some(u=>i>=u[0]&&i<=u[1]);
  svg.append("g").attr("shape-rendering","crispEdges").selectAll("rect").data(d3.range(barCount)).join("rect")
   .attr("x",i=>px(i)-1).attr("width",3).attr("y",rowTop[r]).attr("height",rowH[r]).attr("fill",i=>isRed(i)?C.red:C.cyan);
  svg.append("rect").attr("x",2).attr("y",rowTop[r]+4).attr("width",labelBox[r]).attr("height",10).attr("fill","#0a0a0a");
  svg.append("text").attr("x",3).attr("y",rowTop[r]+12.5).attr("fill","#fff").attr("font-size",10).attr("textLength",labelW[r]).attr("lengthAdjust","spacingAndGlyphs").text(rowLabels[r]);
  svg.append("text").attr("x",2389.7).attr("y",rowTop[r]+20.5).attr("fill",r==0?C.red:C.cyan).attr("stroke",r==0?C.red:C.cyan).attr("stroke-width",.6).attr("font-size",17).attr("font-weight","bold").attr("textLength",statusW[r]).attr("lengthAdjust","spacingAndGlyphs").text(rowStatus[r]);
  const sc=d3.scaleLinear().domain([0,1]).range(rowTicks[r]);
  const a=svg.append("g").attr("transform",`translate(${plotRight},0)`).call(d3.axisRight(sc).tickValues([0,1]).tickSize(4).tickFormat(d3.format(".3f")));
  a.select(".domain").remove();
  a.selectAll("line").attr("stroke","#fff").attr("shape-rendering","crispEdges");
  a.selectAll("text").attr("fill","#fff").attr("font-size",9.5).attr("font-family","Liberation Sans").attr("x",6);
});
// frame lines
svg.append("g").attr("shape-rendering","crispEdges").selectAll("line").data([1005,1007,1036,1038,1067,1069,1097]).join("line")
 .attr("x1",0).attr("x2",plotRight).attr("y1",d=>d+.5).attr("y2",d=>d+.5).attr("stroke","#fff");
svg.append("line").attr("x1",plotRight+.5).attr("x2",plotRight+.5).attr("y1",0).attr("y2",1097).attr("stroke","#fff").attr("shape-rendering","crispEdges");

// price axis
const pa=svg.append("g").attr("transform",`translate(${plotRight},0)`).call(d3.axisRight(y).tickValues(priceTicks).tickSize(4).tickFormat(d3.format(".2f")));
pa.select(".domain").remove();
pa.selectAll("line").attr("stroke","#fff").attr("shape-rendering","crispEdges");
pa.selectAll("text").attr("fill","#fff").attr("font-size",9.5).attr("font-family","Liberation Sans").attr("x",6);

// current price tags
const tagFill=["#f5a623","#ffffff"];
levelPrices.forEach((p,k)=>{
  const yy=Math.round(y(p));
  svg.append("rect").attr("x",2507).attr("y",yy-5).attr("width",39).attr("height",10).attr("fill",tagFill[k]);
  svg.append("text").attr("x",2510).attr("y",yy+3.5).attr("fill","#000").attr("font-size",9.5).text(p.toFixed(2));
});

// time axis
const ta=svg.append("g").attr("transform","translate(0,1097)").call(d3.axisBottom(x).tickValues(timeTickBars).tickSize(4).tickFormat((d,k)=>timeLabels[k]));
ta.select(".domain").remove();
ta.selectAll("line").attr("stroke","#fff").attr("shape-rendering","crispEdges");
ta.selectAll("text").attr("fill","#fff").attr("font-size",10).attr("font-family","Liberation Sans").attr("text-anchor","start").attr("y",9);
svg.append("text").attr("x",0).attr("y",1110).attr("fill","#fff").attr("font-size",10).text("19 Nov 2025");

// window bottom edge
svg.append("rect").attr("x",0).attr("y",1118).attr("width",2556).attr("height",1).attr("fill","#cfcfcf");
svg.append("rect").attr("x",156).attr("y",1118).attr("width",70).attr("height",1).attr("fill","#333");
</script></body></html>
